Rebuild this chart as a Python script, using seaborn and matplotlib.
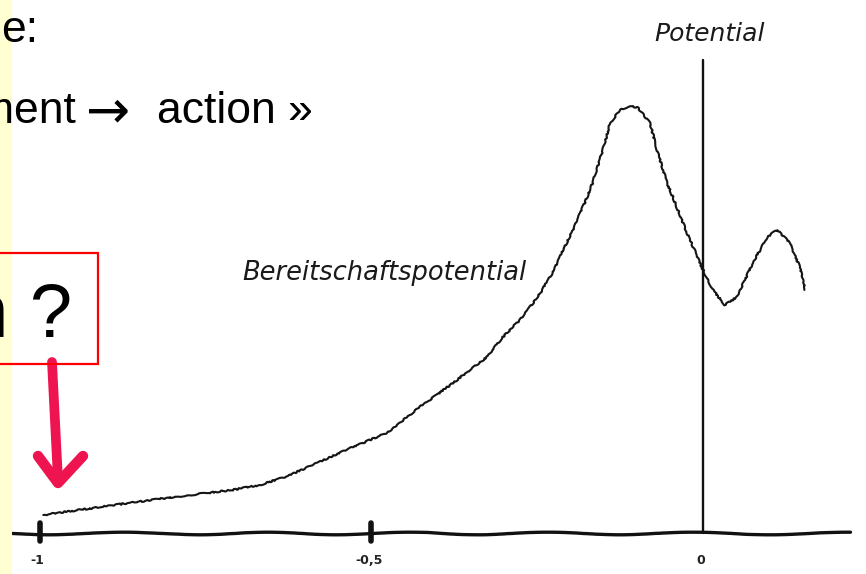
import matplotlib
matplotlib.use("Agg")
import matplotlib.pyplot as plt
from matplotlib.patches import Rectangle
import numpy as np
import pandas as pd
import seaborn as sns

# Readiness potential trace: time relative to movement onset (s) and amplitude (a.u.)
time_s = [-0.995, -0.909, -0.808, -0.709, -0.668, -0.627, -0.578, -0.528, -0.477,
          -0.427, -0.377, -0.326, -0.302, -0.276, -0.250, -0.226, -0.213, -0.196,
          -0.170, -0.151, -0.140, -0.125, -0.110, -0.098, -0.080, -0.068, -0.054,
          -0.024, 0.000, 0.015, 0.033, 0.051, 0.075, 0.097, 0.112, 0.131, 0.146,
          0.154]
amplitude = [0.45, 0.65, 0.88, 1.08, 1.20, 1.42, 1.78, 2.15, 2.50,
             3.15, 3.75, 4.40, 4.90, 5.33, 5.88, 6.53, 7.00, 7.58,
             8.58, 9.58, 10.25, 10.58, 10.68, 10.63, 10.25, 9.50, 8.75,
             7.50, 6.58, 6.08, 5.70, 5.90, 6.75, 7.40, 7.58, 7.25, 6.65,
             6.08]

tick_values = [-1.0, -0.5, 0.0]
tick_labels = ["-1", "-0,5", "0"]

curve_label = "Bereitschaftspotential"
axis_label = "Potential"

sns.set_theme(style="white")
plt.rcParams["font.family"] = ["Liberation Sans", "DejaVu Sans"]

W, H = 866, 574
fig = plt.figure(figsize=(W / 100, H / 100), dpi=100)
fig.patch.set_facecolor("white")

# chart axes fill the figure
ax = fig.add_axes([0, 0, 1, 1])
ax.set_xlim(-1.0603, 0.2459)
ax.set_ylim(-1.025, 13.325)
ax.axis("off")

df = pd.DataFrame({"t": time_s, "v": amplitude})
sns.lineplot(data=df, x="t", y="v", ax=ax, color="#151515", linewidth=1.5,
             sort=False, estimator=None)
for ln in ax.lines:
    ln.set_sketch_params(scale=0.7, length=14, randomness=10)

# hand-drawn time axis and the onset line
base, = ax.plot([-1.0422, 0.2217], [0, 0], color="#111111", linewidth=2.4,
                solid_capstyle="round")
base.set_sketch_params(scale=1.3, length=160, randomness=2)
ax.plot([0, 0], [0, 11.825], color="#111111", linewidth=1.7)

for tv, tl in zip(tick_values, tick_labels):
    if tv != 0:
        ax.plot([tv, tv], [-0.2, 0.25], color="#111111", linewidth=4.0)
    ax.text(tv - 0.004, -0.68, tl, ha="center", va="center", fontsize=9,
            family="DejaVu Sans", color="#222222", fontweight="bold")

ax.text(-0.481, 6.5, curve_label, ha="center", va="center", fontsize=18.5,
        style="italic", family="DejaVu Sans", color="#1a1a1a")
ax.text(0.0106, 12.48, axis_label, ha="center", va="center", fontsize=18,
        style="italic", family="DejaVu Sans", color="#1a1a1a")

# slide overlay in pixel coordinates
ov = fig.add_axes([0, 0, 1, 1], zorder=5)
ov.set_xlim(0, W)
ov.set_ylim(H, 0)
ov.axis("off")
ov.patch.set_alpha(0)

ov.add_patch(Rectangle((0, 0), 12, H, facecolor="#FFFFD2", edgecolor="none",
                       zorder=0))

ov.text(38, 42, "e:", ha="right", va="baseline", fontsize=32, color="black")
ov.text(76, 123, "ment", ha="right", va="baseline", fontsize=32, color="black")
ov.text(108, 112, "\u2192", ha="center", va="center", fontsize=38,
        family="DejaVu Sans", color="black")
ov.text(313, 123, "action \u00bb", ha="right", va="baseline", fontsize=32,
        color="black")

ov.add_patch(Rectangle((-10, 253), 108, 111, facecolor="none",
                       edgecolor="#FF0000", linewidth=1.6, zorder=3))
ov.text(72, 337, "n ?", ha="right", va="baseline", fontsize=55, color="black")

pink = "#EE1450"
ov.plot([52, 58], [362, 480], color=pink, linewidth=7, solid_capstyle="round")
ov.plot([38, 58, 83], [456, 483, 456], color=pink, linewidth=7.5,
        solid_capstyle="round", solid_joinstyle="round")

fig.savefig("out.png", dpi=100)
